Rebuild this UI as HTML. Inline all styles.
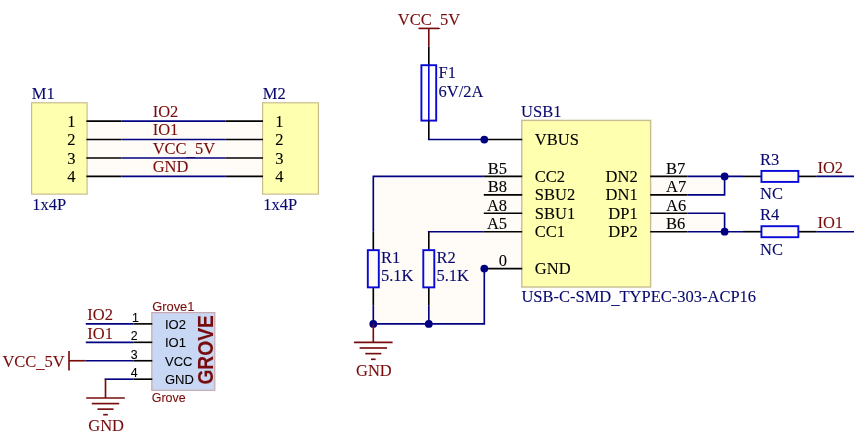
<!DOCTYPE html>
<html lang="en">
<head>
<meta charset="utf-8">
<title>Schematic</title>
<style>
html,body{margin:0;padding:0;background:#ffffff;}
body{width:857px;height:440px;overflow:hidden;}
svg{display:block;will-change:transform;}
text{white-space:pre;stroke-width:0.1px;}
.s{font-family:"Liberation Serif","Times New Roman",serif;}
.a{font-family:"Liberation Sans",Arial,sans-serif;}
.ab{font-family:"Liberation Sans",Arial,sans-serif;font-weight:bold;}
</style>
</head>
<body>
<svg width="857" height="440" viewBox="0 0 857 440">
<rect x="0" y="0" width="857" height="440" fill="#ffffff"/>
<rect x="87.50" y="121.10" width="175.00" height="55.31" fill="#fffcf7"/>
<rect x="31.60" y="102.80" width="55.50" height="91.30" fill="#ffffb0" stroke="#c8bc90" stroke-width="1.2"/>
<rect x="262.60" y="102.80" width="55.80" height="91.30" fill="#ffffb0" stroke="#c8bc90" stroke-width="1.2"/>
<text x="152.70" y="116.80" fill="#780c0c" stroke="#780c0c" font-size="16.5" text-anchor="start" class="s">IO2</text>
<line x1="121.60" y1="121.10" x2="225.70" y2="121.10" stroke="#000080" stroke-width="1.65" stroke-linecap="butt"/>
<line x1="86.40" y1="121.10" x2="121.60" y2="121.10" stroke="#000000" stroke-width="1.65" stroke-linecap="butt"/>
<line x1="225.70" y1="121.10" x2="263.00" y2="121.10" stroke="#000000" stroke-width="1.65" stroke-linecap="butt"/>
<text x="75.60" y="126.76" fill="#000000" stroke="#000000" font-size="16.5" text-anchor="end" class="s">1</text>
<text x="275.20" y="126.76" fill="#000000" stroke="#000000" font-size="16.5" text-anchor="start" class="s">1</text>
<text x="152.70" y="135.23" fill="#780c0c" stroke="#780c0c" font-size="16.5" text-anchor="start" class="s">IO1</text>
<line x1="121.60" y1="139.53" x2="225.70" y2="139.53" stroke="#000080" stroke-width="1.65" stroke-linecap="butt"/>
<line x1="86.40" y1="139.53" x2="121.60" y2="139.53" stroke="#000000" stroke-width="1.65" stroke-linecap="butt"/>
<line x1="225.70" y1="139.53" x2="263.00" y2="139.53" stroke="#000000" stroke-width="1.65" stroke-linecap="butt"/>
<text x="75.60" y="145.19" fill="#000000" stroke="#000000" font-size="16.5" text-anchor="end" class="s">2</text>
<text x="275.20" y="145.19" fill="#000000" stroke="#000000" font-size="16.5" text-anchor="start" class="s">2</text>
<text x="152.70" y="153.67" fill="#780c0c" stroke="#780c0c" font-size="16.5" text-anchor="start" class="s">VCC<tspan dy="1.9">_</tspan><tspan dy="-1.9">5V</tspan></text>
<line x1="121.60" y1="157.97" x2="225.70" y2="157.97" stroke="#000080" stroke-width="1.65" stroke-linecap="butt"/>
<line x1="86.40" y1="157.97" x2="121.60" y2="157.97" stroke="#000000" stroke-width="1.65" stroke-linecap="butt"/>
<line x1="225.70" y1="157.97" x2="263.00" y2="157.97" stroke="#000000" stroke-width="1.65" stroke-linecap="butt"/>
<text x="75.60" y="163.63" fill="#000000" stroke="#000000" font-size="16.5" text-anchor="end" class="s">3</text>
<text x="275.20" y="163.63" fill="#000000" stroke="#000000" font-size="16.5" text-anchor="start" class="s">3</text>
<text x="152.70" y="172.10" fill="#780c0c" stroke="#780c0c" font-size="16.5" text-anchor="start" class="s">GND</text>
<line x1="121.60" y1="176.41" x2="225.70" y2="176.41" stroke="#000080" stroke-width="1.65" stroke-linecap="butt"/>
<line x1="86.40" y1="176.41" x2="121.60" y2="176.41" stroke="#000000" stroke-width="1.65" stroke-linecap="butt"/>
<line x1="225.70" y1="176.41" x2="263.00" y2="176.41" stroke="#000000" stroke-width="1.65" stroke-linecap="butt"/>
<text x="75.60" y="182.06" fill="#000000" stroke="#000000" font-size="16.5" text-anchor="end" class="s">4</text>
<text x="275.20" y="182.06" fill="#000000" stroke="#000000" font-size="16.5" text-anchor="start" class="s">4</text>
<text x="31.80" y="98.70" fill="#08086e" stroke="#08086e" font-size="16.5" text-anchor="start" class="s">M1</text>
<text x="262.80" y="98.70" fill="#08086e" stroke="#08086e" font-size="16.5" text-anchor="start" class="s">M2</text>
<text x="32.30" y="209.95" fill="#08086e" stroke="#08086e" font-size="16.5" text-anchor="start" class="s">1x4P</text>
<text x="263.30" y="209.95" fill="#08086e" stroke="#08086e" font-size="16.5" text-anchor="start" class="s">1x4P</text>
<rect x="151.80" y="312.60" width="63.00" height="77.70" fill="#c8d8f4" stroke="#c8a8b0" stroke-width="1.2"/>
<line x1="133.35" y1="323.88" x2="152.30" y2="323.88" stroke="#000000" stroke-width="1.65" stroke-linecap="butt"/>
<text x="135.40" y="321.88" fill="#000000" stroke="#000000" font-size="12.3" text-anchor="middle" class="a">1</text>
<text x="165.00" y="328.63" fill="#000000" stroke="#000000" font-size="13" text-anchor="start" class="a">IO2</text>
<line x1="133.35" y1="342.32" x2="152.30" y2="342.32" stroke="#000000" stroke-width="1.65" stroke-linecap="butt"/>
<text x="134.20" y="340.32" fill="#000000" stroke="#000000" font-size="12.3" text-anchor="middle" class="a">2</text>
<text x="165.00" y="347.07" fill="#000000" stroke="#000000" font-size="13" text-anchor="start" class="a">IO1</text>
<line x1="133.35" y1="360.75" x2="152.30" y2="360.75" stroke="#000000" stroke-width="1.65" stroke-linecap="butt"/>
<text x="134.20" y="358.75" fill="#000000" stroke="#000000" font-size="12.3" text-anchor="middle" class="a">3</text>
<text x="165.00" y="365.50" fill="#000000" stroke="#000000" font-size="13" text-anchor="start" class="a">VCC</text>
<line x1="133.35" y1="379.19" x2="152.30" y2="379.19" stroke="#000000" stroke-width="1.65" stroke-linecap="butt"/>
<text x="134.20" y="377.19" fill="#000000" stroke="#000000" font-size="12.3" text-anchor="middle" class="a">4</text>
<text x="165.00" y="383.94" fill="#000000" stroke="#000000" font-size="13" text-anchor="start" class="a">GND</text>
<line x1="85.80" y1="323.88" x2="133.35" y2="323.88" stroke="#000080" stroke-width="1.65" stroke-linecap="butt"/>
<line x1="85.80" y1="342.32" x2="133.35" y2="342.32" stroke="#000080" stroke-width="1.65" stroke-linecap="butt"/>
<line x1="85.80" y1="360.75" x2="133.35" y2="360.75" stroke="#000080" stroke-width="1.65" stroke-linecap="butt"/>
<line x1="104.60" y1="379.19" x2="133.35" y2="379.19" stroke="#000080" stroke-width="1.65" stroke-linecap="butt"/>
<text x="87.30" y="320.08" fill="#780c0c" stroke="#780c0c" font-size="16.5" text-anchor="start" class="s">IO2</text>
<text x="87.30" y="338.52" fill="#780c0c" stroke="#780c0c" font-size="16.5" text-anchor="start" class="s">IO1</text>
<line x1="69.00" y1="360.75" x2="85.80" y2="360.75" stroke="#780c0c" stroke-width="1.65" stroke-linecap="butt"/>
<line x1="69.00" y1="350.95" x2="69.00" y2="370.56" stroke="#780c0c" stroke-width="1.65" stroke-linecap="butt"/>
<text x="2.40" y="366.50" fill="#780c0c" stroke="#780c0c" font-size="16.5" text-anchor="start" class="s">VCC<tspan dy="1.9">_</tspan><tspan dy="-1.9">5V</tspan></text>
<line x1="105.50" y1="379.19" x2="105.50" y2="398.04" stroke="#780c0c" stroke-width="1.65" stroke-linecap="butt"/>
<line x1="86.20" y1="398.04" x2="124.80" y2="398.04" stroke="#780c0c" stroke-width="1.65" stroke-linecap="butt"/>
<line x1="91.80" y1="403.59" x2="119.20" y2="403.59" stroke="#780c0c" stroke-width="1.65" stroke-linecap="butt"/>
<line x1="97.50" y1="409.14" x2="113.50" y2="409.14" stroke="#780c0c" stroke-width="1.65" stroke-linecap="butt"/>
<line x1="103.20" y1="414.69" x2="107.80" y2="414.69" stroke="#780c0c" stroke-width="1.65" stroke-linecap="butt"/>
<text x="106.10" y="430.90" fill="#780c0c" stroke="#780c0c" font-size="16.5" text-anchor="middle" class="s">GND</text>
<text x="152.15" y="310.55" fill="#780c0c" stroke="#780c0c" font-size="12.9" text-anchor="start" class="a">Grove1</text>
<text x="151.80" y="402.40" fill="#780c0c" stroke="#780c0c" font-size="12.45" text-anchor="start" class="a">Grove</text>
<text transform="translate(213.3,384.6) rotate(-90)" fill="#780c0c" stroke="#780c0c" font-size="21.2" textLength="69.4" lengthAdjust="spacingAndGlyphs" class="ab">GROVE</text>
<path d="M373.3,176.41 H521.8 V268.58 H484.3 V323.88 H373.3 Z" fill="#fffcf7"/>
<path d="M650.6,176.41 H724.6 V194.84 H650.6 Z" fill="#fffcf7"/>
<path d="M650.6,213.27 H724.6 V231.71 H650.6 Z" fill="#fffcf7"/>
<rect x="521.80" y="120.40" width="128.80" height="166.60" fill="#ffffb0" stroke="#c8bc90" stroke-width="1.4"/>
<text x="521.10" y="117.05" fill="#08086e" stroke="#08086e" font-size="16.5" text-anchor="start" class="s">USB1</text>
<text x="521.40" y="302.20" fill="#08086e" stroke="#08086e" font-size="16.5" text-anchor="start" class="s">USB-C-SMD<tspan dy="1.9">_</tspan><tspan dy="-1.9">TYPEC-303-ACP16</tspan></text>
<line x1="483.80" y1="139.53" x2="522.20" y2="139.53" stroke="#000000" stroke-width="1.65" stroke-linecap="butt"/>
<text x="534.80" y="145.13" fill="#000000" stroke="#000000" font-size="16.5" text-anchor="start" class="s">VBUS</text>
<line x1="483.80" y1="176.41" x2="522.20" y2="176.41" stroke="#000000" stroke-width="1.65" stroke-linecap="butt"/>
<text x="534.80" y="182.00" fill="#000000" stroke="#000000" font-size="16.5" text-anchor="start" class="s">CC2</text>
<text x="507.10" y="173.81" fill="#000000" stroke="#000000" font-size="16.5" text-anchor="end" class="s">B5</text>
<line x1="483.80" y1="194.84" x2="522.20" y2="194.84" stroke="#000000" stroke-width="1.65" stroke-linecap="butt"/>
<text x="534.80" y="200.44" fill="#000000" stroke="#000000" font-size="16.5" text-anchor="start" class="s">SBU2</text>
<text x="507.10" y="192.24" fill="#000000" stroke="#000000" font-size="16.5" text-anchor="end" class="s">B8</text>
<line x1="483.80" y1="213.27" x2="522.20" y2="213.27" stroke="#000000" stroke-width="1.65" stroke-linecap="butt"/>
<text x="534.80" y="218.87" fill="#000000" stroke="#000000" font-size="16.5" text-anchor="start" class="s">SBU1</text>
<text x="507.10" y="210.67" fill="#000000" stroke="#000000" font-size="16.5" text-anchor="end" class="s">A8</text>
<line x1="483.80" y1="231.71" x2="522.20" y2="231.71" stroke="#000000" stroke-width="1.65" stroke-linecap="butt"/>
<text x="534.80" y="237.31" fill="#000000" stroke="#000000" font-size="16.5" text-anchor="start" class="s">CC1</text>
<text x="507.10" y="229.11" fill="#000000" stroke="#000000" font-size="16.5" text-anchor="end" class="s">A5</text>
<line x1="483.80" y1="268.58" x2="522.20" y2="268.58" stroke="#000000" stroke-width="1.65" stroke-linecap="butt"/>
<text x="534.80" y="274.18" fill="#000000" stroke="#000000" font-size="16.5" text-anchor="start" class="s">GND</text>
<text x="507.10" y="265.98" fill="#000000" stroke="#000000" font-size="16.5" text-anchor="end" class="s">0</text>
<line x1="650.20" y1="176.41" x2="687.50" y2="176.41" stroke="#000000" stroke-width="1.65" stroke-linecap="butt"/>
<text x="637.70" y="182.00" fill="#000000" stroke="#000000" font-size="16.5" text-anchor="end" class="s">DN2</text>
<text x="666.00" y="173.81" fill="#000000" stroke="#000000" font-size="16.5" text-anchor="start" class="s">B7</text>
<line x1="650.20" y1="194.84" x2="687.50" y2="194.84" stroke="#000000" stroke-width="1.65" stroke-linecap="butt"/>
<text x="637.70" y="200.44" fill="#000000" stroke="#000000" font-size="16.5" text-anchor="end" class="s">DN1</text>
<text x="666.00" y="192.24" fill="#000000" stroke="#000000" font-size="16.5" text-anchor="start" class="s">A7</text>
<line x1="650.20" y1="213.27" x2="687.50" y2="213.27" stroke="#000000" stroke-width="1.65" stroke-linecap="butt"/>
<text x="637.70" y="218.87" fill="#000000" stroke="#000000" font-size="16.5" text-anchor="end" class="s">DP1</text>
<text x="666.00" y="210.67" fill="#000000" stroke="#000000" font-size="16.5" text-anchor="start" class="s">A6</text>
<line x1="650.20" y1="231.71" x2="687.50" y2="231.71" stroke="#000000" stroke-width="1.65" stroke-linecap="butt"/>
<text x="637.70" y="237.31" fill="#000000" stroke="#000000" font-size="16.5" text-anchor="end" class="s">DP2</text>
<text x="666.00" y="229.11" fill="#000000" stroke="#000000" font-size="16.5" text-anchor="start" class="s">B6</text>
<line x1="418.50" y1="28.40" x2="439.10" y2="28.40" stroke="#780c0c" stroke-width="1.65" stroke-linecap="butt"/>
<line x1="428.80" y1="28.40" x2="428.80" y2="46.50" stroke="#780c0c" stroke-width="1.65" stroke-linecap="butt"/>
<text x="429.00" y="24.60" fill="#780c0c" stroke="#780c0c" font-size="16.5" text-anchor="middle" class="s">VCC<tspan dy="1.9">_</tspan><tspan dy="-1.9">5V</tspan></text>
<line x1="428.80" y1="46.50" x2="428.80" y2="65.20" stroke="#000000" stroke-width="1.65" stroke-linecap="butt"/>
<line x1="428.80" y1="65.20" x2="428.80" y2="120.60" stroke="#0808d8" stroke-width="1.65" stroke-linecap="butt"/>
<rect x="421.40" y="65.20" width="14.80" height="55.40" fill="none" stroke="#0808d8" stroke-width="1.9"/>
<line x1="428.80" y1="120.60" x2="428.80" y2="139.53" stroke="#000000" stroke-width="1.65" stroke-linecap="butt"/>
<line x1="427.90" y1="139.53" x2="484.30" y2="139.53" stroke="#000080" stroke-width="1.65" stroke-linecap="butt"/>
<circle cx="484.30" cy="139.53" r="3.9" fill="#000080"/>
<text x="438.50" y="78.30" fill="#08086e" stroke="#08086e" font-size="16.5" text-anchor="start" class="s">F1</text>
<text x="438.50" y="96.55" fill="#08086e" stroke="#08086e" font-size="16.5" text-anchor="start" class="s">6V/2A</text>
<polyline points="483.80,176.41 373.30,176.41 373.30,231.71" fill="none" stroke="#000080" stroke-width="1.65" stroke-linejoin="miter"/>
<polyline points="483.80,231.71 427.90,231.71" fill="none" stroke="#000080" stroke-width="1.65" stroke-linejoin="miter"/>
<line x1="373.30" y1="231.71" x2="373.30" y2="250.16" stroke="#000000" stroke-width="1.65" stroke-linecap="butt"/>
<line x1="373.30" y1="287.06" x2="373.30" y2="305.51" stroke="#000000" stroke-width="1.65" stroke-linecap="butt"/>
<rect x="367.80" y="250.16" width="11.00" height="37.20" fill="#fffcf7" stroke="#0808d8" stroke-width="1.9"/>
<text x="380.90" y="263.21" fill="#08086e" stroke="#08086e" font-size="16.5" text-anchor="start" class="s">R1</text>
<text x="380.90" y="281.31" fill="#08086e" stroke="#08086e" font-size="16.5" text-anchor="start" class="s">5.1K</text>
<line x1="428.80" y1="231.71" x2="428.80" y2="250.16" stroke="#000000" stroke-width="1.65" stroke-linecap="butt"/>
<line x1="428.80" y1="287.06" x2="428.80" y2="305.51" stroke="#000000" stroke-width="1.65" stroke-linecap="butt"/>
<rect x="423.30" y="250.16" width="11.00" height="37.20" fill="#fffcf7" stroke="#0808d8" stroke-width="1.9"/>
<text x="436.40" y="263.21" fill="#08086e" stroke="#08086e" font-size="16.5" text-anchor="start" class="s">R2</text>
<text x="436.40" y="281.31" fill="#08086e" stroke="#08086e" font-size="16.5" text-anchor="start" class="s">5.1K</text>
<line x1="373.30" y1="305.45" x2="373.30" y2="323.88" stroke="#000080" stroke-width="1.65" stroke-linecap="butt"/>
<line x1="428.80" y1="305.45" x2="428.80" y2="323.88" stroke="#000080" stroke-width="1.65" stroke-linecap="butt"/>
<polyline points="373.30,323.88 484.30,323.88 484.30,268.58" fill="none" stroke="#000080" stroke-width="1.65" stroke-linejoin="miter"/>
<circle cx="373.30" cy="323.88" r="3.9" fill="#000080"/>
<circle cx="428.80" cy="323.88" r="3.9" fill="#000080"/>
<circle cx="484.30" cy="268.58" r="3.9" fill="#000080"/>
<line x1="373.30" y1="323.88" x2="373.30" y2="342.33" stroke="#780c0c" stroke-width="1.65" stroke-linecap="butt"/>
<line x1="354.00" y1="342.33" x2="392.60" y2="342.33" stroke="#780c0c" stroke-width="1.65" stroke-linecap="butt"/>
<line x1="359.60" y1="347.98" x2="387.00" y2="347.98" stroke="#780c0c" stroke-width="1.65" stroke-linecap="butt"/>
<line x1="365.30" y1="353.63" x2="381.30" y2="353.63" stroke="#780c0c" stroke-width="1.65" stroke-linecap="butt"/>
<line x1="371.00" y1="359.28" x2="375.60" y2="359.28" stroke="#780c0c" stroke-width="1.65" stroke-linecap="butt"/>
<text x="373.90" y="376.30" fill="#780c0c" stroke="#780c0c" font-size="16.5" text-anchor="middle" class="s">GND</text>
<line x1="687.50" y1="176.41" x2="743.00" y2="176.41" stroke="#000080" stroke-width="1.65" stroke-linecap="butt"/>
<line x1="687.50" y1="231.71" x2="743.00" y2="231.71" stroke="#000080" stroke-width="1.65" stroke-linecap="butt"/>
<polyline points="687.50,194.84 724.60,194.84 724.60,176.41" fill="none" stroke="#000080" stroke-width="1.65" stroke-linejoin="miter"/>
<polyline points="687.50,213.27 724.60,213.27 724.60,231.71" fill="none" stroke="#000080" stroke-width="1.65" stroke-linejoin="miter"/>
<circle cx="724.60" cy="176.41" r="3.9" fill="#000080"/>
<circle cx="724.60" cy="231.71" r="3.9" fill="#000080"/>
<line x1="743.00" y1="176.41" x2="761.45" y2="176.41" stroke="#000000" stroke-width="1.65" stroke-linecap="butt"/>
<line x1="798.35" y1="176.41" x2="816.80" y2="176.41" stroke="#000000" stroke-width="1.65" stroke-linecap="butt"/>
<rect x="761.45" y="170.91" width="36.90" height="11.00" fill="#fffcf7" stroke="#0808d8" stroke-width="1.9"/>
<line x1="816.80" y1="176.41" x2="854.00" y2="176.41" stroke="#000080" stroke-width="1.65" stroke-linecap="butt"/>
<text x="760.10" y="164.75" fill="#08086e" stroke="#08086e" font-size="16.5" text-anchor="start" class="s">R3</text>
<text x="760.10" y="199.25" fill="#08086e" stroke="#08086e" font-size="16.5" text-anchor="start" class="s">NC</text>
<text x="817.40" y="172.60" fill="#780c0c" stroke="#780c0c" font-size="16.5" text-anchor="start" class="s">IO2</text>
<line x1="743.00" y1="231.71" x2="761.45" y2="231.71" stroke="#000000" stroke-width="1.65" stroke-linecap="butt"/>
<line x1="798.35" y1="231.71" x2="816.80" y2="231.71" stroke="#000000" stroke-width="1.65" stroke-linecap="butt"/>
<rect x="761.45" y="226.21" width="36.90" height="11.00" fill="#fffcf7" stroke="#0808d8" stroke-width="1.9"/>
<line x1="816.80" y1="231.71" x2="854.00" y2="231.71" stroke="#000080" stroke-width="1.65" stroke-linecap="butt"/>
<text x="760.10" y="220.06" fill="#08086e" stroke="#08086e" font-size="16.5" text-anchor="start" class="s">R4</text>
<text x="760.10" y="254.56" fill="#08086e" stroke="#08086e" font-size="16.5" text-anchor="start" class="s">NC</text>
<text x="817.40" y="227.91" fill="#780c0c" stroke="#780c0c" font-size="16.5" text-anchor="start" class="s">IO1</text>
</svg>
</body>
</html>
